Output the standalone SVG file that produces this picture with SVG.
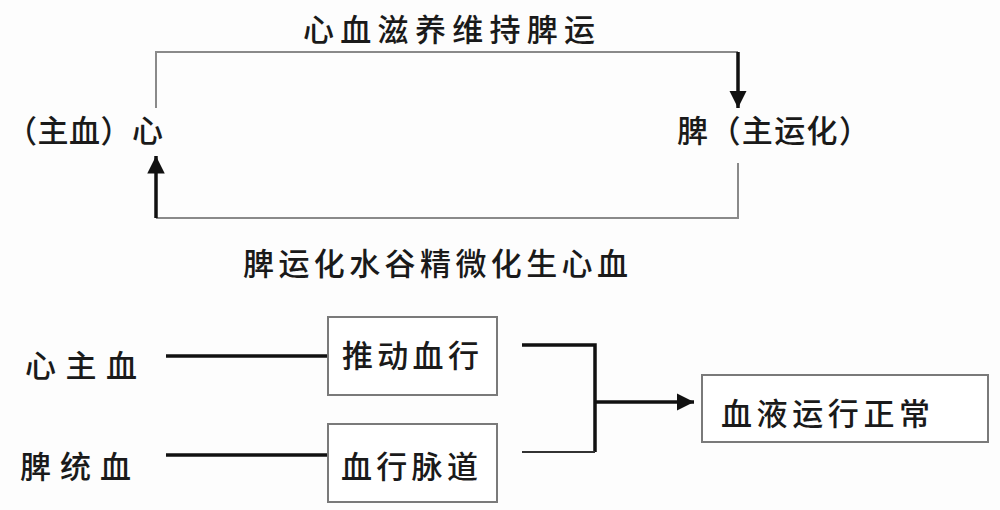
<svg xmlns="http://www.w3.org/2000/svg" width="1000" height="510" viewBox="0 0 1000 510">
<defs>
<style>
text{font-family:"Noto Sans CJK SC","Noto Sans",sans-serif;fill:#1a1a1a;font-weight:500;}
.t{font-size:31px;}
.thin{stroke:#8a8a8a;stroke-width:2;fill:none;}
.thick{stroke:#111;stroke-width:3.5;fill:none;}
.box{fill:#fff;stroke:#7a7a7a;stroke-width:2;}
</style>
<marker id="ah" viewBox="0 0 10 10" refX="10" refY="5" markerWidth="5" markerHeight="5" orient="auto" markerUnits="strokeWidth">
<path d="M0,0 L10,5 L0,10 z" fill="#111"/>
</marker>
</defs>
<rect width="1000" height="510" fill="#fdfdfd"/>
<g id="connectors">
<polyline class="thin" points="156,108 156,52 738,52"/>
<line class="thick" x1="738" y1="52" x2="738" y2="108" marker-end="url(#ah)"/>
<polyline class="thin" points="738,163 738,218 156,218"/>
<line class="thick" x1="156" y1="218" x2="156" y2="156" marker-end="url(#ah)"/>
<line class="thick" x1="166" y1="356" x2="328" y2="356"/>
<line class="thick" x1="166" y1="455" x2="328" y2="455"/>
<polyline class="thick" points="522,345 595,345 595,452"/>
<line x1="522" y1="452" x2="595" y2="452" stroke="#333" stroke-width="2"/>
<line class="thick" x1="595" y1="402" x2="694" y2="402" marker-end="url(#ah)"/>
</g>
<g id="label-top"><text class="t" x="303" y="41" letter-spacing="6.3">心血滋养维持脾运</text></g>
<g id="label-bottom"><text class="t" x="243" y="275" letter-spacing="4.4">脾运化水谷精微化生心血</text></g>
<g id="node-heart"><text class="t" x="6" y="142" letter-spacing="0.5">（主血）心</text></g>
<g id="node-spleen"><text class="t" x="677" y="142" letter-spacing="1.4">脾（主运化）</text></g>
<g id="node-xzx"><text class="t" x="25" y="377" letter-spacing="9.5">心主血</text></g>
<g id="node-ptx"><text class="t" x="20" y="478" letter-spacing="9">脾统血</text></g>
<g id="node-tdxx"><rect class="box" x="328" y="317" width="169" height="78"/><text class="t" x="342" y="367" letter-spacing="4.3">推动血行</text></g>
<g id="node-xxmd"><rect class="box" x="328" y="424" width="169" height="78"/><text class="t" x="341" y="478" letter-spacing="4.3">血行脉道</text></g>
<g id="node-xyyx"><rect class="box" x="702" y="375" width="286" height="67"/><text class="t" x="721" y="425" letter-spacing="4.6">血液运行正常</text></g>
</svg>
